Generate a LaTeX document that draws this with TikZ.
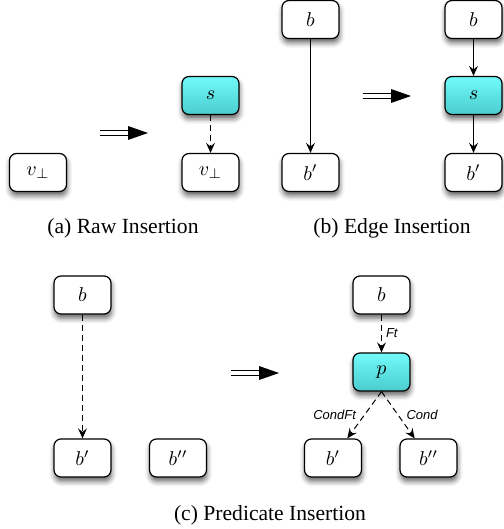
\documentclass[tikz,border=0pt]{standalone}
\usepackage{fontspec}
\setmainfont{Liberation Serif}
\newfontfamily\lblfont{Liberation Sans}
\usetikzlibrary{arrows.meta,shadows.blur}
\begin{document}
\begin{tikzpicture}[x=0.5pt,y=-0.5pt,
  box/.style={draw=black, line width=0.6pt, rounded corners=3.5pt,
    minimum width=28.5pt, minimum height=19pt, fill=white, inner sep=0pt,
    font=\fontsize{10}{12}\selectfont,
    blur shadow={shadow xshift=0.3pt, shadow yshift=-2.2pt, shadow blur radius=2.5pt, shadow opacity=60}},
  hl/.style={box, top color={rgb,255:red,114;green,250;blue,250}, bottom color={rgb,255:red,74;green,204;blue,206}},
  edge/.style={line width=0.5pt, -{Stealth[length=5pt,width=4.4pt,inset=1.8pt]}},
  dedge/.style={edge, dash pattern=on 3pt off 2pt},
  lbl/.style={font=\lblfont\itshape\fontsize{6.5}{8}\selectfont, inner sep=1pt},
  captext/.style={font=\fontsize{10.8}{13}\selectfont, inner sep=0pt},
  shaft/.style={line width=0.7pt, double distance=2pt}]
\useasboundingbox (0,0) rectangle (503,529);

% (a)
\node[box] (av) at (38,172.5) {$v_\perp$};
\node[hl] (as) at (210.5,95.5) {$s$};
\node[box] (av2) at (210.5,172.5) {$v_\perp$};
\draw[dedge] (as) -- (av2);
\coordinate (aa1) at (100,133); \coordinate (aa2) at (129,133);
\draw[shaft] (aa1) -- (aa2);
\fill (128,126) -- (148,133) -- (128,140) -- cycle;
\node[captext] (capa) at (123,228) {(a) Raw Insertion};

% (b)
\node[box] (bb) at (310.5,19.5) {$b$};
\node[box] (bb1) at (310.5,172.5) {$b'$};
\draw[edge] (bb) -- (bb1);
\coordinate (ba1) at (363,96); \coordinate (ba2) at (392,96);
\draw[shaft] (ba1) -- (ba2);
\fill (391,89) -- (411,96) -- (391,103) -- cycle;
\node[box] (rb) at (473.5,19.5) {$b$};
\node[hl] (rs) at (473.5,95.5) {$s$};
\node[box] (rb1) at (473.5,172.5) {$b'$};
\draw[edge] (rb) -- (rs);
\draw[edge] (rs) -- (rb1);
\node[captext] (capb) at (392,228) {(b) Edge Insertion};

% (c)
\node[box] (cb) at (82.5,295) {$b$};
\node[box] (cb1) at (82.5,458) {$b'$};
\node[box] (cb2) at (178,458) {$b''$};
\draw[dedge] (cb) -- (cb1);
\coordinate (ca1) at (231,373); \coordinate (ca2) at (260,373);
\draw[shaft] (ca1) -- (ca2);
\fill (259,366) -- (279,373) -- (259,380) -- cycle;
\node[box] (db) at (381.5,295) {$b$};
\node[hl] (dp) at (381.5,372) {$p$};
\node[box] (db1) at (333,458) {$b'$};
\node[box] (db2) at (428.5,458) {$b''$};
\draw[dedge] (db) -- node[lbl, right=1pt] {Ft} (dp);
\draw[dedge] (dp.south) -- node[lbl, left=3pt] {CondFt} (db1);
\draw[dedge] (dp.south) -- node[lbl, right=3pt] {Cond} (db2);
\node[captext] (capc) at (270,515) {(c) Predicate Insertion};
\end{tikzpicture}
\end{document}
